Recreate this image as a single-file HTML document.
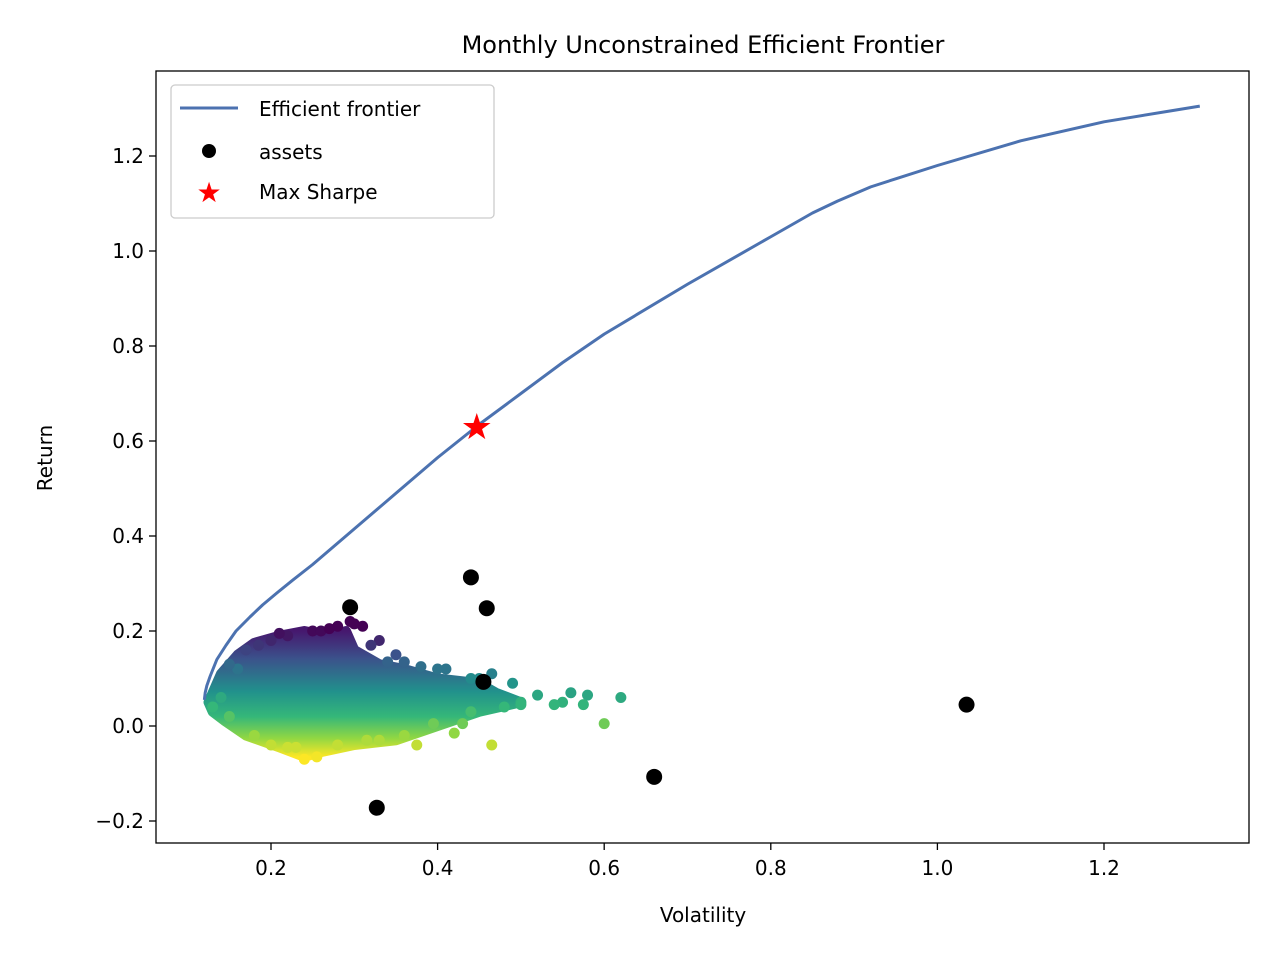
<!DOCTYPE html>
<html><head><meta charset="utf-8"><style>
body{margin:0;background:#fff}
svg text{font-family:"DejaVu Sans","Liberation Sans",sans-serif;fill:#000}
</style></head><body>
<svg id="c" width="1280" height="960" xmlns="http://www.w3.org/2000/svg">
<rect width="1280" height="960" fill="#fff"/>
<text x="703" y="53" font-size="24" text-anchor="middle">Monthly Unconstrained Efficient Frontier</text>
<defs><linearGradient id="vg" gradientUnits="userSpaceOnUse" x1="0" x2="0" y1="631" y2="757">
<stop offset="0" stop-color="#46186e"/><stop offset="0.22" stop-color="#3b528b"/><stop offset="0.48" stop-color="#21918c"/><stop offset="0.68" stop-color="#35b779"/><stop offset="0.85" stop-color="#90d743"/><stop offset="1" stop-color="#fde725"/></linearGradient>
<clipPath id="clip"><rect x="156" y="71" width="1093" height="772"/></clipPath></defs>
<g id="plot" clip-path="url(#clip)"></g>
<g id="axes"></g>
<rect x="156" y="71" width="1093" height="772" fill="none" stroke="#000" stroke-width="1.3"/>
<text x="703" y="922" font-size="20" text-anchor="middle">Volatility</text>
<text transform="translate(52,458) rotate(-90)" font-size="20" text-anchor="middle">Return</text>
<g>
<rect x="171" y="85" width="323" height="133" rx="4" fill="#fff" fill-opacity="0.85" stroke="#ccc" stroke-width="1.3"/>
<line x1="180" y1="108" x2="238" y2="108" stroke="#4c72b0" stroke-width="3"/>
<text x="259" y="116" font-size="20">Efficient frontier</text>
<circle cx="209" cy="151" r="7" fill="#000"/>
<text x="259" y="159" font-size="20">assets</text>
<text x="209" y="202" font-size="28" fill="red" text-anchor="middle" style="fill:red">★</text>
<text x="259" y="199" font-size="20">Max Sharpe</text>
</g>
</svg>
<script>
const xTicks=[0.2,0.4,0.6,0.8,1.0,1.2];
const xTickLabels=["0.2","0.4","0.6","0.8","1.0","1.2"];
const yTicks=[-0.2,0,0.2,0.4,0.6,0.8,1.0,1.2];
const yTickLabels=["\u22120.2","0.0","0.2","0.4","0.6","0.8","1.0","1.2"];
const frontierVol=[0.12,0.121,0.123,0.127,0.135,0.146,0.158,0.175,0.19,0.207,0.226,0.25,0.3,0.35,0.4,0.45,0.5,0.55,0.6,0.7,0.8,0.85,0.88,0.92,0.95,1.0,1.1,1.2,1.28,1.315];
const frontierRet=[0.055,0.07,0.085,0.105,0.14,0.17,0.2,0.23,0.255,0.28,0.307,0.34,0.415,0.49,0.565,0.635,0.70,0.765,0.825,0.93,1.03,1.08,1.105,1.135,1.152,1.18,1.232,1.272,1.295,1.305];
const assetVol=[0.295,0.44,0.459,0.455,1.035,0.66,0.327];
const assetRet=[0.25,0.313,0.248,0.093,0.045,-0.107,-0.172];
const maxSharpeVol=0.447, maxSharpeRet=0.63;
const blobVol=[0.125,0.14,0.16,0.18,0.21,0.24,0.27,0.29,0.3,0.33,0.36,0.4,0.45,0.47,0.5,0.45,0.4,0.35,0.3,0.26,0.24,0.21,0.17,0.145,0.13];
const blobRet=[0.05,0.11,0.15,0.175,0.19,0.2,0.19,0.2,0.16,0.13,0.12,0.1,0.09,0.07,0.05,0.03,0.0,-0.03,-0.04,-0.055,-0.065,-0.045,-0.02,0.01,0.03];
const portVol=[0.52,0.55,0.56,0.58,0.62,0.6,0.49,0.465,0.42,0.375,0.24,0.255,0.295,0.31,0.33,0.35,0.38,0.41,0.44,0.465,0.5,0.48,0.54,0.575,0.34,0.43,0.2,0.23,0.185,0.315,0.395,0.25,0.16,0.14,
0.15,0.17,0.2,0.22,0.26,0.28,0.3,0.32,0.36,0.4,0.45,0.13,0.15,0.18,0.22,0.28,0.33,0.36,0.44,0.5,0.27,0.21];
const portRet=[0.065,0.05,0.07,0.065,0.06,0.005,0.09,-0.04,-0.015,-0.04,-0.07,-0.065,0.22,0.21,0.18,0.15,0.125,0.12,0.1,0.11,0.05,0.04,0.045,0.045,0.135,0.005,-0.04,-0.045,0.17,-0.03,0.005,0.2,0.12,0.06,
0.13,0.16,0.18,0.19,0.2,0.21,0.215,0.17,0.135,0.12,0.1,0.04,0.02,-0.02,-0.045,-0.04,-0.03,-0.02,0.03,0.045,0.205,0.195];
const X=v=>271+(v-0.2)*833, Y=r=>726-r*475;
const NS="http://www.w3.org/2000/svg";
const plot=document.getElementById('plot'), axes=document.getElementById('axes');
function mk(tag,at,parent){const e=document.createElementNS(NS,tag);for(const k in at)e.setAttribute(k,at[k]);parent.appendChild(e);return e;}
const vir=["#440154","#3b528b","#21918c","#35b779","#90d743","#fde725"];
function col(r){let t=Math.max(0,Math.min(0.999,(0.205-r)/0.275))*5;const i=Math.floor(t),f=t-i;const a=vir[i],b=vir[i+1];const p=s=>[1,3,5].map(j=>parseInt(s.substr(j,2),16));const A=p(a),B=p(b);return "rgb("+A.map((v,k)=>Math.round(v+(B[k]-v)*f)).join(",")+")";}
const blob=mk('polygon',{points:blobVol.map((v,i)=>X(v)+","+Y(blobRet[i])).join(" "),fill:"url(#vg)",stroke:"url(#vg)","stroke-width":10,"stroke-linejoin":"round"},plot);


portVol.forEach((v,i)=>{const c=mk('circle',{cx:X(v),cy:Y(portRet[i]),r:5.5,fill:col(portRet[i])},plot);

});
const fl=mk('polyline',{points:frontierVol.map((v,i)=>X(v)+","+Y(frontierRet[i])).join(" "),fill:"none",stroke:"#4c72b0","stroke-width":3,"stroke-linejoin":"round"},plot);


assetVol.forEach((v,i)=>{const c=mk('circle',{cx:X(v),cy:Y(assetRet[i]),r:8,fill:"#000"},plot);

});
const st=mk('text',{x:X(maxSharpeVol),y:Y(maxSharpeRet)+12,"font-size":36,"text-anchor":"middle",style:"fill:red"},plot);
st.textContent="★";


xTicks.forEach((v,i)=>{mk('line',{x1:X(v),x2:X(v),y1:843,y2:850,stroke:"#000","stroke-width":1.3},axes);
const t=mk('text',{x:X(v),y:875,"font-size":20,"text-anchor":"middle"},axes);t.textContent=xTickLabels[i];

});
yTicks.forEach((v,i)=>{mk('line',{x1:149,x2:156,y1:Y(v),y2:Y(v),stroke:"#000","stroke-width":1.3},axes);
const t=mk('text',{x:144,y:Y(v)+7,"font-size":20,"text-anchor":"end"},axes);t.textContent=yTickLabels[i];

});
</script>
</body></html>
